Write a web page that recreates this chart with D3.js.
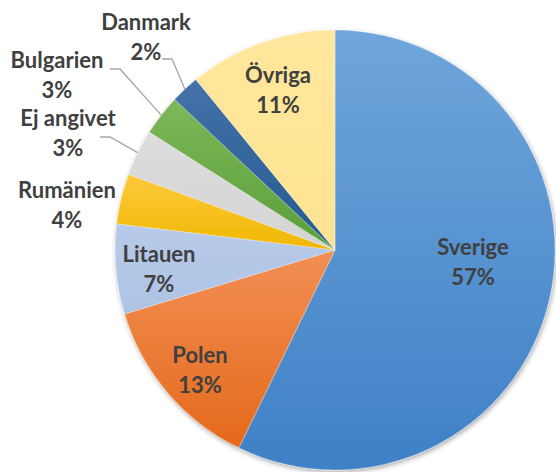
<!DOCTYPE html>
<html>
<head>
<meta charset="utf-8">
<script src="https://cdn.jsdelivr.net/npm/d3@7"></script>
<style>
  html, body { margin: 0; padding: 0; background: #fff; }
  svg { display: block; }
</style>
</head>
<body>
<div class="pie-chart"></div>
<script>
// data
const countries = ["Sverige", "Polen", "Litauen", "Rumänien", "Ej angivet", "Bulgarien", "Danmark", "Övriga"];
const shares = [57.2, 13.1, 6.6, 3.7, 3.4, 3.0, 2.1, 10.9];
const pctLabels = ["57%", "13%", "7%", "4%", "3%", "3%", "2%", "11%"];

// colours: [top, bottom] of each slice gradient
const colours = {
  "Sverige":    ["#6fa6db", "#3f80c6"],
  "Polen":      ["#f28f55", "#e4691b"],
  "Litauen":    ["#b7cae9", "#aec3e4"],
  "Rumänien":   ["#ffc93e", "#efb800"],
  "Ej angivet": ["#dddddd", "#d4d4d4"],
  "Bulgarien":  ["#7db85a", "#5b9e37"],
  "Danmark":    ["#4472a8", "#225b8f"],
  "Övriga":     ["#ffe79d", "#ffe391"]
};

const width = 556, height = 472;
const cx = 335, cy = 250, radius = 220;

const svg = d3.select(".pie-chart")
  .append("svg")
  .attr("width", width)
  .attr("height", height);

const defs = svg.append("defs");

const shadow = defs.append("filter")
  .attr("id", "shadow")
  .attr("x", "-10%").attr("y", "-10%")
  .attr("width", "120%").attr("height", "120%");
shadow.append("feGaussianBlur").attr("in", "SourceAlpha").attr("stdDeviation", 2.5);
shadow.append("feOffset").attr("dx", 1).attr("dy", 2).attr("result", "blur");
shadow.append("feComponentTransfer").append("feFuncA").attr("type", "linear").attr("slope", 0.35);
const merge = shadow.append("feMerge");
merge.append("feMergeNode");
merge.append("feMergeNode").attr("in", "SourceGraphic");

countries.forEach((c, i) => {
  const g = defs.append("linearGradient")
    .attr("id", "grad" + i)
    .attr("x1", 0).attr("y1", 0).attr("x2", 0).attr("y2", 1);
  g.append("stop").attr("offset", "0%").attr("stop-color", colours[c][0]);
  g.append("stop").attr("offset", "100%").attr("stop-color", colours[c][1]);
});

const data = countries.map((c, i) => ({name: c, value: shares[i], pct: pctLabels[i], idx: i}));

const pie = d3.pie()
  .value(d => d.value)
  .sort(null);

const arc = d3.arc()
  .innerRadius(0)
  .outerRadius(radius);

const arcs = pie(data);

const chart = svg.append("g")
  .attr("transform", "translate(" + cx + "," + cy + ")");

chart.append("g")
  .attr("filter", "url(#shadow)")
  .selectAll("path")
  .data(arcs)
  .join("path")
  .attr("d", arc)
  .attr("fill", d => "url(#grad" + d.data.idx + ")")
  .attr("stroke", "#ffffff")
  .attr("stroke-opacity", 0.5)
  .attr("stroke-width", 0.6);

// label layout relative to the pie centre: [x centre, first baseline]
const labelPos = {
  "Sverige":    [138, 5],
  "Polen":      [-135, 113],
  "Litauen":    [-176, 12],
  "Rumänien":   [-268, -52],
  "Ej angivet": [-267, -124],
  "Bulgarien":  [-278, -182],
  "Danmark":    [-189, -220],
  "Övriga":     [-57, -167]
};
// where the leader line leaves the label (offset from labelPos)
const leaderStart = {
  "Ej angivet": [32, 11],
  "Bulgarien":  [53, 1],
  "Danmark":    [16, 29]
};
const lineGap = 30;

const midAngle = d => (d.startAngle + d.endAngle) / 2;
const onRim = d => [Math.sin(midAngle(d)) * radius, -Math.cos(midAngle(d)) * radius];

// leader lines
chart.append("g")
  .selectAll("polyline")
  .data(arcs.filter(d => leaderStart[d.data.name]))
  .join("polyline")
  .attr("fill", "none")
  .attr("stroke", "#a6a6a6")
  .attr("stroke-width", 1.3)
  .attr("points", d => {
    const p = labelPos[d.data.name], o = leaderStart[d.data.name];
    const sx = p[0] + o[0], sy = p[1] + o[1];
    return [[sx, sy], [sx + 10, sy], onRim(d)].map(q => q.join(",")).join(" ");
  });

// labels
const labels = chart.append("g")
  .selectAll("text")
  .data(arcs)
  .join("text")
  .attr("text-anchor", "middle")
  .attr("font-family", "Lato, 'Noto Sans', sans-serif")
  .attr("font-weight", 700)
  .attr("font-size", 22)
  .attr("fill", "#404040")
  .attr("transform", d => "translate(" + labelPos[d.data.name][0] + "," + labelPos[d.data.name][1] + ")");

labels.append("tspan")
  .attr("x", 0)
  .attr("y", 0)
  .text(d => d.data.name);

labels.append("tspan")
  .attr("x", 0)
  .attr("y", lineGap)
  .text(d => d.data.pct);
</script>
</body>
</html>
